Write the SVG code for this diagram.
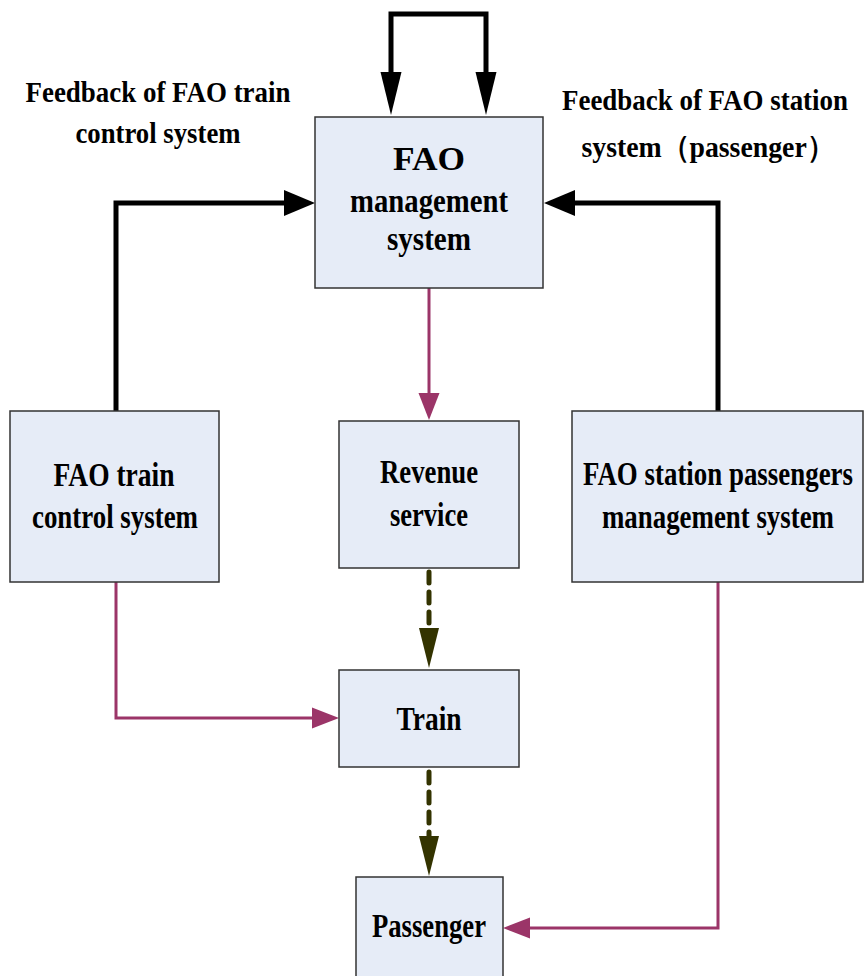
<svg xmlns="http://www.w3.org/2000/svg" width="864" height="976" viewBox="0 0 864 976">
<style>
.box{fill:#e6ecf7;stroke:#333;stroke-width:1.5}
text{font-family:"Liberation Serif","Times New Roman",serif;font-weight:bold;fill:#000;text-anchor:middle}
.n{font-size:34px}
.f{font-size:30px}
.blk{fill:none;stroke:#000;stroke-width:5}
.mag{fill:none;stroke:#9b3568;stroke-width:3}
.dash{fill:none;stroke:#333300;stroke-width:5;stroke-dasharray:11 9;stroke-linecap:round}
</style>
<defs>
<marker id="aSide" markerUnits="userSpaceOnUse" markerWidth="32" markerHeight="28" refX="0" refY="14" orient="auto" overflow="visible"><path d="M0,1 L31,14 L0,27 z" fill="#000"/></marker>
<marker id="aTop" markerUnits="userSpaceOnUse" markerWidth="44" markerHeight="22" refX="0" refY="11" orient="auto-start-reverse" overflow="visible"><path d="M0,0.5 L43,11 L0,21.5 z" fill="#000"/></marker>
<marker id="aMag" markerUnits="userSpaceOnUse" markerWidth="30" markerHeight="22" refX="0" refY="11" orient="auto" overflow="visible"><path d="M0,0.5 L27,11 L0,21.5 z" fill="#9b3568"/></marker>
<marker id="aDash" markerUnits="userSpaceOnUse" markerWidth="40" markerHeight="22" refX="0" refY="11" orient="auto" overflow="visible"><path d="M0,1 L40,11 L0,21 z" fill="#333300"/></marker>
</defs>

<g id="connectors">
<path class="blk" d="M391,72 V14 H486 V72" marker-start="url(#aTop)" marker-end="url(#aTop)"/>
<path class="blk" d="M116,411 V203 H284" marker-end="url(#aSide)"/>
<path class="blk" d="M718,411 V203 H575" marker-end="url(#aSide)"/>
<path class="mag" d="M429,288 V393" marker-end="url(#aMag)"/>
<path class="mag" d="M116,582 V718 H312" marker-end="url(#aMag)"/>
<path class="mag" d="M718,582 V928 H530" marker-end="url(#aMag)"/>
<path class="dash" d="M429,572 V628" marker-end="url(#aDash)"/>
<path class="dash" d="M429,772 V836" marker-end="url(#aDash)"/>
</g>

<g id="label-train-feedback">
<text class="f" x="158" y="102" textLength="265" lengthAdjust="spacingAndGlyphs">Feedback of FAO train</text>
<text class="f" x="158" y="143" textLength="165" lengthAdjust="spacingAndGlyphs">control system</text>
</g>
<g id="label-station-feedback">
<text class="f" x="705" y="110" textLength="286" lengthAdjust="spacingAndGlyphs">Feedback of FAO station</text>
<text class="f" x="708" y="157" textLength="253" lengthAdjust="spacingAndGlyphs">system（passenger）</text>
</g>

<g id="node-management">
<rect class="box" x="315" y="117" width="228" height="171"/>
<text class="n" x="429" y="170" textLength="72" lengthAdjust="spacingAndGlyphs">FAO</text>
<text class="n" x="429" y="212" textLength="158" lengthAdjust="spacingAndGlyphs">management</text>
<text class="n" x="429" y="250" textLength="84" lengthAdjust="spacingAndGlyphs">system</text>
</g>

<g id="node-train-control">
<rect class="box" x="10" y="411" width="209" height="171"/>
<text class="n" x="114" y="486" textLength="121" lengthAdjust="spacingAndGlyphs">FAO train</text>
<text class="n" x="115" y="528" textLength="166" lengthAdjust="spacingAndGlyphs">control system</text>
</g>

<g id="node-revenue">
<rect class="box" x="339" y="421" width="180" height="147"/>
<text class="n" x="429" y="483" textLength="98" lengthAdjust="spacingAndGlyphs">Revenue</text>
<text class="n" x="429" y="526" textLength="78" lengthAdjust="spacingAndGlyphs">service</text>
</g>

<g id="node-station">
<rect class="box" x="572" y="411" width="291" height="171"/>
<text class="n" x="718" y="485" textLength="270" lengthAdjust="spacingAndGlyphs">FAO station passengers</text>
<text class="n" x="718" y="528" textLength="232" lengthAdjust="spacingAndGlyphs">management system</text>
</g>

<g id="node-train">
<rect class="box" x="339" y="670" width="180" height="97"/>
<text class="n" x="429" y="730" textLength="65" lengthAdjust="spacingAndGlyphs">Train</text>
</g>

<g id="node-passenger">
<rect class="box" x="356" y="877" width="147" height="110"/>
<text class="n" x="429" y="937" textLength="114" lengthAdjust="spacingAndGlyphs">Passenger</text>
</g>
</svg>
